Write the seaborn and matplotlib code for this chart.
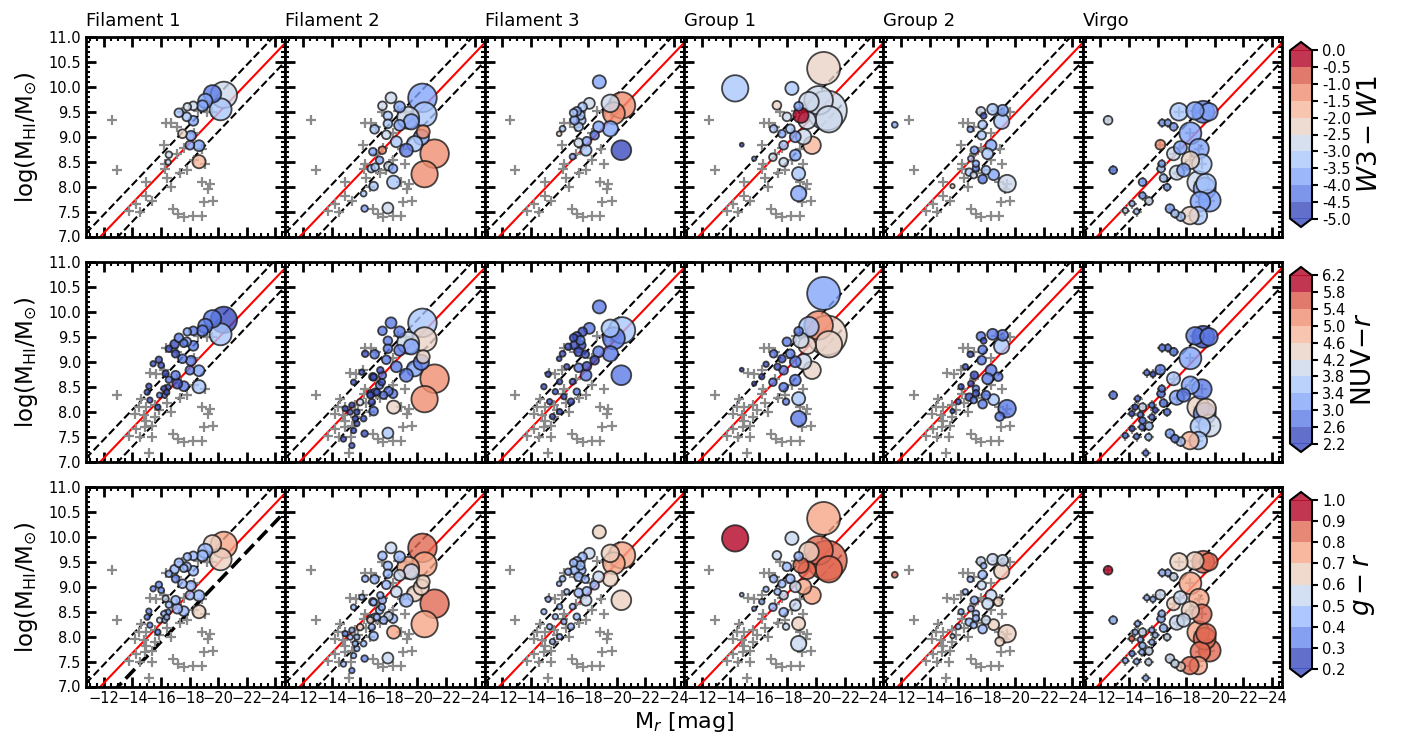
import numpy as np
import pandas as pd
import seaborn as sns
import matplotlib.pyplot as plt
from matplotlib.colors import Normalize
from matplotlib.cm import ScalarMappable
from matplotlib.ticker import MultipleLocator

NA = np.nan

# === data: per environment, M_r, log(MHI), apparent size, and the three colours ===
fil1_mr = [-20.40, -19.60, -20.17, -19.10, -18.90, -18.26, -17.84, -17.25, -17.80, -18.26,
           -16.95, -17.60, -17.50, -18.10, -18.02, -18.66, -16.55, -16.50, -18.66, -17.02,
           -15.85, -16.01, -16.32, -17.02, -17.14, -17.60, -15.15, -15.03, -16.20, -16.25,
           -15.22, -15.78, -16.55, -15.45, -15.90, -16.40]
fil1_hi = [9.84, 9.86, 9.55, 9.72, 9.62, 9.62, 9.60, 9.48, 9.40, 9.32,
           9.35, 9.37, 9.06, 9.02, 8.83, 8.82, 8.64, 8.49, 8.50, 9.16,
           9.04, 8.93, 8.76, 8.73, 8.56, 8.51, 8.51, 8.39, 8.46, 8.33,
           8.23, 8.09, 9.26, 8.96, 8.33, 8.39]
fil1_diam = [12, 8, 10, 6.5, 5, 4, 3.5, 4, 4, 4.5,
             4, 3.5, 4, 4.5, 4, 5, 3, 2.5, 6, 3.5,
             3, 2.7, 3, 4, 4.5, 4.5, 2.5, 2.5, 2.5, 2.5,
             2.5, 2.5, 3, 2.5, 2.5, 2.5]
fil1_w3w1 = [-2.7, -4.4, -3.4, -3.8, -3.6, -3.0, -2.8, -3.3, -3.5, -3.7,
             NA, NA, -2.2, -3.7, -3.8, -3.7, -3.0, -2.7, -2.0, NA,
             NA, NA, NA, NA, NA, NA, NA, NA, NA, NA,
             NA, NA, NA, NA, NA, NA]
fil1_nuvr = [2.5, 2.9, 3.6, 2.8, 2.7, 2.9, 3.2, 2.7, 3.4, 2.8,
             2.6, 2.7, 2.9, 2.8, 2.7, 3.3, 2.7, 2.6, 3.5, 2.6,
             2.5, 2.6, 2.6, 2.7, 2.6, 2.8, 2.5, 2.6, 2.6, 2.7,
             2.5, 2.6, 2.6, 2.6, 2.7, 2.6]
fil1_gr = [0.75, 0.68, 0.65, 0.45, 0.43, 0.45, 0.42, 0.40, 0.45, 0.45,
           0.40, 0.42, 0.45, 0.42, 0.45, 0.48, 0.42, 0.38, 0.62, 0.38,
           0.38, 0.35, 0.55, 0.40, 0.40, 0.42, 0.35, 0.38, 0.40, 0.40,
           0.35, 0.38, 0.40, 0.38, 0.55, 0.40]

fil2_mr = [-20.35, -20.50, -19.35, -18.75, -18.15, -17.55, -17.93, -17.93, -17.00, -17.82,
           -18.75, -19.57, -20.40, -19.80, -20.27, -19.22, -18.52, -21.20, -20.50, -16.88,
           -17.54, -17.35, -16.77, -17.04, -17.97, -18.29, -18.33, -16.93, -16.23, -16.30,
           -17.93, -16.34, -17.40, -16.93, -17.51, -17.63, -17.16, -16.70, -16.81, -15.99,
           -15.41, -14.94, -15.29, -15.76, -15.76, -15.53, -15.41, -14.82, -15.64, -16.11,
           -15.53]
fil2_hi = [9.78, 9.45, 9.38, 9.60, 9.78, 9.62, 9.42, 9.26, 9.15, 9.04,
           9.23, 9.30, 9.10, 8.86, 8.99, 8.73, 8.90, 8.66, 8.25, 8.70,
           8.73, 8.53, 8.36, 8.39, 8.41, 8.36, 8.09, 8.01, 7.86, 7.56,
           7.57, 9.16, 8.83, 8.69, 8.59, 8.33, 8.39, 8.33, 8.19, 8.19,
           8.13, 8.06, 7.99, 7.99, 7.76, 7.62, 7.32, 7.45, 7.86, 8.79,
           8.59]
fil2_diam = [13, 11, 10, 5, 5, 4, 4, 4, 4, 4,
             5, 7, 6, 7, 7, 6, 5, 13, 12, 3.5,
             3.5, 3.5, 3.5, 3.5, 4, 4, 6, 4, 2.7, 3,
             5, 3, 3, 3, 3, 3.5, 3, 3, 3, 3,
             2.5, 2.5, 2.5, 2.5, 2.5, 2.5, 2.5, 2.5, 2.5, 2.5,
             2.5]
fil2_w3w1 = [-3.6, -3.1, -2.9, -3.7, -3.0, -2.9, -3.2, -3.5, -3.4, -3.0,
             -3.6, -3.9, -1.2, -3.3, -3.9, -4.1, -3.5, -1.3, -1.4, -3.6,
             -1.5, -3.6, -3.4, -3.1, -3.0, -3.6, -3.3, -3.4, -3.2, -3.9,
             -3.0, NA, NA, NA, NA, NA, NA, NA, NA, NA,
             NA, NA, NA, NA, NA, NA, NA, NA, NA, NA,
             NA]
fil2_nuvr = [3.6, 4.3, 4.0, 2.7, 3.0, 2.9, 2.8, 2.9, 2.7, 2.8,
             2.9, 3.2, 4.4, 3.3, 3.0, 2.8, 2.9, 5.2, 5.0, 2.6,
             2.8, 2.7, 2.6, 2.7, 2.8, 2.9, 4.5, 2.7, 2.6, 2.6,
             3.8, 2.6, 2.6, 2.6, 2.6, 2.7, 2.6, 2.6, 2.6, 4.0,
             2.6, 2.5, 2.6, 2.6, 2.6, 2.5, 2.6, 2.5, 2.6, 2.6,
             2.6]
fil2_gr = [0.85, 0.75, 0.72, 0.45, 0.55, 0.50, 0.50, 0.50, 0.45, 0.50,
           0.55, 0.60, 0.70, 0.65, 0.62, 0.50, 0.58, 0.88, 0.78, 0.42,
           0.45, 0.42, 0.40, 0.45, 0.55, 0.50, 0.72, 0.45, 0.42, 0.38,
           0.60, 0.45, 0.40, 0.42, 0.45, 0.50, 0.45, 0.65, 0.40, 0.65,
           0.40, 0.35, 0.40, 0.45, 0.40, 0.40, 0.35, 0.40, 0.45, 0.40,
           0.45]

fil3_mr = [-18.78, -18.08, -17.61, -17.21, -16.98, -17.45, -17.05, -17.52, -17.33, -19.55,
           -20.37, -19.80, -18.73, -19.55, -18.45, -17.91, -17.33, -17.85, -16.91, -16.21,
           -15.97, -20.32, -16.50, -16.00, -15.70, -16.30, -15.30, -16.80, -16.00, -15.50,
           -17.20, -14.90, -16.60, -17.80, -15.20]
fil3_hi = [10.10, 9.67, 9.60, 9.51, 9.48, 9.43, 9.33, 9.33, 9.20, 9.67,
           9.63, 9.47, 9.20, 9.16, 9.03, 8.91, 8.88, 8.73, 8.60, 9.16,
           9.06, 8.73, 8.90, 8.60, 8.40, 8.30, 8.20, 8.20, 8.00, 7.90,
           8.40, 8.50, 9.30, 9.15, 8.75]
fil3_diam = [6, 5, 4, 4, 3.5, 4, 4, 4, 4, 8,
             12, 10, 5, 7, 4, 4, 4, 5, 2.7, 2.7,
             2.2, 9, 2.5, 2.5, 2.5, 2.5, 2.5, 3, 2.5, 2.5,
             3, 2.5, 3, 3.5, 2.5]
fil3_w3w1 = [-3.9, -3.0, -3.3, -3.6, -3.3, -3.4, -3.6, -3.2, -3.5, -2.9,
             -1.3, -1.4, -3.7, -3.8, -4.1, -4.0, -3.0, -3.1, -3.6, -3.5,
             -2.2, -4.6, NA, NA, NA, NA, NA, NA, NA, NA,
             NA, NA, NA, NA, NA]
fil3_nuvr = [2.8, 2.7, 2.6, 2.6, 2.6, 2.7, 2.6, 2.6, 2.6, 3.6,
             3.5, 2.8, 2.7, 2.8, 2.6, 2.6, 2.7, 2.8, 2.6, 2.6,
             2.6, 2.8, 2.5, 2.6, 2.5, 2.6, 2.5, 2.6, 2.6, 2.5,
             2.7, 2.6, 2.6, 2.6, 2.6]
fil3_gr = [0.62, 0.55, 0.45, 0.42, 0.45, 0.45, 0.40, 0.45, 0.45, 0.70,
           0.75, 0.78, 0.60, 0.65, 0.50, 0.48, 0.50, 0.55, 0.45, 0.40,
           0.50, 0.62, 0.40, 0.45, 0.40, 0.45, 0.40, 0.50, 0.45, 0.40,
           0.45, 0.45, 0.45, 0.50, 0.45]

grp1_mr = [-14.34, -20.53, -18.31, -17.26, -17.96, -18.78, -18.94, -20.77, -20.18, -19.37,
           -19.13, -19.72, -18.55, -18.20, -17.61, -17.03, -16.98, -17.73, -17.73, -18.55,
           -18.78, -18.78, -14.80, -15.67, -20.90, -19.50, -16.20, -17.30, -16.50, -17.90]
grp1_hi = [9.97, 10.37, 9.97, 9.63, 9.40, 9.61, 9.43, 9.53, 9.73, 9.33,
           9.00, 8.83, 9.00, 9.16, 9.06, 9.16, 8.59, 8.83, 8.49, 8.63,
           8.26, 7.86, 8.84, 8.56, 9.35, 9.70, 8.70, 8.90, 8.95, 8.20]
grp1_diam = [12, 15, 6, 4, 4, 4, 7, 18, 13, 8,
             7, 8, 5, 4, 3.5, 3.5, 3.5, 4, 4, 5,
             6, 7, 1.8, 2, 12, 9, 2.5, 3, 2.5, 3]
grp1_w3w1 = [-3.4, -2.3, -3.4, -2.3, -2.9, -4.0, -0.3, -2.8, -2.7, -2.9,
             -2.8, -1.9, -3.6, -3.3, -3.6, -3.4, -3.0, -3.4, -3.0, -3.8,
             -3.3, -4.0, -4.8, -4.0, -3.0, -3.0, NA, NA, NA, NA]
grp1_nuvr = [NA, 3.4, NA, NA, 3.0, 2.8, 4.0, 4.3, 5.0, 4.4,
             3.9, 4.6, 2.9, 2.7, 2.6, 2.7, 2.7, 2.8, 2.7, 3.0,
             3.7, 2.7, 2.6, 2.6, 4.5, 3.5, 2.6, 2.6, 2.6, 2.7]
grp1_gr = [0.92, 0.78, 0.55, 0.55, 0.50, 0.50, 0.85, 0.88, 0.88, 0.80,
           0.72, 0.75, 0.55, 0.50, 0.50, 0.45, 0.45, 0.55, 0.50, 0.60,
           0.62, 0.55, 0.50, 0.45, 0.80, 0.70, 0.45, 0.50, 0.50, 0.60]

grp2_mr = [-11.56, -17.59, -17.78, -18.41, -19.11, -19.04, -17.71, -16.85, -17.64, -18.30,
           -18.06, -17.13, -16.89, -17.24, -16.77, -17.24, -17.08, -17.94, -18.48, -17.71,
           -19.42, -15.60, -16.50, -16.20, -16.00, -18.80, -18.90]
grp2_hi = [9.24, 9.51, 9.42, 9.55, 9.53, 9.31, 9.24, 9.15, 9.03, 8.83,
           8.66, 8.73, 8.56, 8.46, 8.29, 8.37, 8.23, 8.33, 8.24, 8.15,
           8.06, 8.01, 8.90, 8.50, 8.20, 8.70, 7.90]
grp2_diam = [2.7, 4, 2.7, 5, 5, 7, 4, 2.7, 4, 5,
             5, 3.5, 2.7, 3, 3.5, 3, 3, 4, 5, 4,
             8, 2, 2.5, 2.5, 2.5, 4, 4]
grp2_w3w1 = [-3.8, -3.0, -4.6, -3.3, -3.8, -3.3, -3.4, -3.6, -3.3, -4.0,
             -3.4, -3.6, -3.3, -3.6, -3.3, -4.2, -3.0, -3.5, -4.0, -4.1,
             -2.8, -2.2, NA, NA, NA, NA, NA]
grp2_nuvr = [NA, 2.9, 2.6, 2.8, 2.8, 3.5, 2.8, 2.6, 2.8, 2.9,
             2.7, 2.6, 2.6, 2.7, 2.6, 2.6, 2.7, 2.8, 3.6, 2.7,
             3.0, 2.6, 2.6, 2.6, 2.5, 3.0, 2.8]
grp2_gr = [0.85, 0.55, 0.50, 0.60, 0.60, 0.65, 0.50, 0.45, 0.55, 0.55,
           0.60, 0.45, 0.40, 0.45, 0.45, 0.40, 0.50, 0.55, 0.62, 0.50,
           0.70, 0.55, 0.45, 0.40, 0.45, 0.70, 0.65]

virgo_mr = [-12.54, -12.90, -13.75, -14.22, -14.53, -14.20, -14.60, -14.44, -14.95, -14.80,
            -14.95, -14.90, -15.40, -15.37, -15.18, -15.25, -15.68, -15.60, -15.84, -15.60,
            -16.20, -16.33, -16.72, -17.13, -16.30, -16.25, -16.42, -16.67, -16.87, -17.22,
            -17.62, -17.12, -17.35, -17.83, -17.60, -17.50, -18.30, -18.90, -18.30, -19.10,
            -18.86, -19.30, -19.65, -18.27, -18.86, -19.20, -19.60, -18.62, -19.00, -19.40]
virgo_hi = [9.33, 8.33, 7.52, 7.66, 7.50, 7.96, 8.26, 8.09, 8.09, 7.94,
            7.82, 7.69, 7.71, 7.49, 7.17, 8.78, 8.75, 8.13, 8.03, 7.89,
            8.84, 9.28, 9.28, 9.20, 8.46, 8.36, 8.17, 7.99, 7.56, 7.46,
            7.40, 8.66, 8.28, 8.33, 8.78, 9.50, 9.07, 8.76, 8.53, 8.45,
            8.09, 7.96, 7.72, 7.42, 7.42, 9.50, 9.50, 9.52, 7.70, 8.06]
virgo_diam = [4, 3.5, 2.5, 2.5, 2.5, 2.5, 2.5, 2.5, 3.5, 2.5,
              3, 2.5, 3.5, 3, 2.5, 2.5, 2.5, 2.5, 2.5, 2.5,
              4.5, 3, 3, 3.5, 3, 3.5, 3.5, 3, 4, 3.5,
              4, 6, 6.5, 6, 6, 8, 10, 9, 8, 9,
              10, 10, 10, 8, 8, 10, 8, 8, 9, 9]
virgo_w3w1 = [-2.8, -4.2, -3.0, -3.5, -3.4, NA, NA, NA, -4.0, NA,
              -3.6, NA, -2.8, NA, NA, NA, NA, NA, NA, NA,
              -1.2, -4.0, -3.7, -3.9, -4.0, -3.3, -3.2, -4.0, -3.7, -3.5,
              -3.2, -3.0, -3.0, -3.8, -3.6, -3.5, -3.7, -3.8, -2.3, -3.3,
              -2.8, -3.9, -3.7, -2.3, -3.5, -4.3, -4.0, -3.6, -3.6, -3.4]
virgo_nuvr = [NA, 2.8, 2.7, 2.6, 2.7, 2.6, 2.7, 2.6, 4.0, 2.7,
              2.7, 2.7, 3.6, 3.7, 2.7, 2.7, 2.6, 2.7, 2.6, 2.7,
              2.8, 2.7, 2.8, 2.9, 2.8, 3.0, 2.9, 2.8, 3.4, 2.9,
              3.6, 3.8, 3.3, 2.8, NA, NA, 3.2, NA, 3.1, 2.8,
              4.4, 2.9, 4.0, 4.8, 3.5, 2.5, 2.7, 2.7, 3.5, 4.4]
virgo_gr = [0.95, 0.45, 0.40, 0.35, 0.40, 0.90, 0.45, 0.45, 0.55, 0.50,
            0.45, 0.50, 0.60, 0.55, 0.50, 0.45, 0.45, 0.50, 0.45, 0.50,
            0.60, 0.45, 0.50, 0.55, 0.45, 0.50, 0.50, 0.55, 0.60, 0.60,
            0.65, 0.65, 0.60, 0.60, 0.60, 0.65, 0.75, 0.75, 0.70, 0.80,
            0.72, 0.80, 0.85, 0.85, 0.78, 0.80, 0.85, 0.70, 0.80, 0.82]

panel_names = ["Filament 1", "Filament 2", "Filament 3", "Group 1", "Group 2", "Virgo"]

w3w1_ticks = [-5.0, -4.5, -4.0, -3.5, -3.0, -2.5, -2.0, -1.5, -1.0, -0.5, 0.0]
nuvr_ticks = [2.2, 2.6, 3.0, 3.4, 3.8, 4.2, 4.6, 5.0, 5.4, 5.8, 6.2]
gr_ticks = [0.2, 0.3, 0.4, 0.5, 0.6, 0.7, 0.8, 0.9, 1.0]

# relation log MHI = a*Mr + b, with +/- scatter
rel_slope, rel_icpt, rel_scatter = -0.30, 3.47, 0.37


def make_frame(mr, hi, diam, w3, nuv, gr):
    return pd.DataFrame({"mr": mr, "hi": hi, "diam": diam,
                         "w3w1": w3, "nuvr": nuv, "gr": gr})


frames = [
    make_frame(fil1_mr, fil1_hi, fil1_diam, fil1_w3w1, fil1_nuvr, fil1_gr),
    make_frame(fil2_mr, fil2_hi, fil2_diam, fil2_w3w1, fil2_nuvr, fil2_gr),
    make_frame(fil3_mr, fil3_hi, fil3_diam, fil3_w3w1, fil3_nuvr, fil3_gr),
    make_frame(grp1_mr, grp1_hi, grp1_diam, grp1_w3w1, grp1_nuvr, grp1_gr),
    make_frame(grp2_mr, grp2_hi, grp2_diam, grp2_w3w1, grp2_nuvr, grp2_gr),
    make_frame(virgo_mr, virgo_hi, virgo_diam, virgo_w3w1, virgo_nuvr, virgo_gr),
]
virgo = frames[5]

rows = [
    ("w3w1", w3w1_ticks, r"$W3-W1$"),
    ("nuvr", nuvr_ticks, r"NUV$-r$"),
    ("gr", gr_ticks, r"$g-r$"),
]

# === style ===
sns.set_theme(style="ticks", rc={
    "axes.edgecolor": "black", "xtick.color": "black", "ytick.color": "black",
    "text.color": "black", "axes.labelcolor": "black",
})
plt.rcParams["font.family"] = ["DejaVu Sans"]
plt.rcParams["mathtext.fontset"] = "dejavusans"

W, H = 1415, 742
fig = plt.figure(figsize=(W / 100, H / 100), dpi=100)

x0, pw, ph = 86, 199.3, 199.5
row_top = [37, 262, 487]
xlim = (-10.75, -24.7)
mline = np.array(xlim)
size_scale = 2.5  # marker area per unit diam**2

for i, (col, ticks, label) in enumerate(rows):
    nbin = len(ticks) - 1
    cmap = plt.get_cmap("coolwarm", nbin)
    norm = Normalize(ticks[0], ticks[-1])
    virgo_row = virgo.dropna(subset=[col])

    for j, df in enumerate(frames):
        ax = fig.add_axes([(x0 + j * pw) / W, 1 - (row_top[i] + ph) / H, pw / W, ph / H])

        ax.plot(mline, rel_slope * mline + rel_icpt, color="red", lw=1.5, zorder=1)
        ax.plot(mline, rel_slope * mline + rel_icpt + rel_scatter, color="black",
                ls="--", lw=1.5, zorder=1)
        ax.plot(mline, rel_slope * mline + rel_icpt - rel_scatter, color="black",
                ls="--", lw=2.6 if (i == 2 and j == 0) else 1.5, zorder=1)

        # Virgo galaxies as reference crosses
        sns.scatterplot(data=virgo_row, x="mr", y="hi", marker="+", color="#8a8a8a",
                        s=50, linewidth=1.6, ax=ax, zorder=2, legend=False)

        sub = df.dropna(subset=[col]).sort_values("diam", ascending=False)
        sub = sub.assign(area=sub["diam"] ** 2)
        sns.scatterplot(data=sub, x="mr", y="hi", hue=col, palette=cmap, hue_norm=norm,
                        size="area", sizes=(0, size_scale * 400), size_norm=(0, 400),
                        edgecolor="#1a1a1a", linewidth=1.3, alpha=0.8,
                        ax=ax, zorder=3, legend=False)

        ax.set_xlim(*xlim)
        ax.set_ylim(7.0, 11.0)
        ax.set_xlabel("")
        ax.set_ylabel("")
        ax.xaxis.set_major_locator(MultipleLocator(2))
        ax.xaxis.set_minor_locator(MultipleLocator(0.5))
        ax.yaxis.set_major_locator(MultipleLocator(0.5))
        ax.yaxis.set_minor_locator(MultipleLocator(0.1))
        ax.tick_params(which="both", direction="in", top=True, right=True)
        ax.tick_params(which="major", length=7, width=2.0, labelsize=10.5)
        ax.tick_params(which="minor", length=3, width=1.5)
        for sp in ax.spines.values():
            sp.set_linewidth(2.0)

        if j > 0:
            ax.tick_params(labelleft=False)
        else:
            ax.set_ylabel(r"log(M$_{\rm HI}$/M$_{\odot}$)", fontsize=16.5, labelpad=6)
        if i < 2:
            ax.tick_params(labelbottom=False)
        if i == 0:
            ax.set_title(panel_names[j], loc="left", fontsize=13, pad=8)

    # colour bar for this row
    cax = fig.add_axes([1290 / W, 1 - (row_top[i] + 190) / H, 22 / W, 185 / H])
    sm = ScalarMappable(norm=norm, cmap=cmap)
    cb = fig.colorbar(sm, cax=cax, extend="both", ticks=ticks, alpha=0.8)
    cb.ax.set_yticklabels([f"{t:.1f}" for t in ticks])
    cb.outline.set_linewidth(1.5)
    cb.ax.tick_params(direction="out", length=4, width=1.5, labelsize=10.5)
    cb.ax.minorticks_off()
    cb.set_label(label, fontsize=19, labelpad=4)

fig.text((x0 + 3 * pw) / W, 1 - 722 / H, r"M$_r$ [mag]", ha="center", va="center", fontsize=16)

fig.savefig("out.png", dpi=100)
